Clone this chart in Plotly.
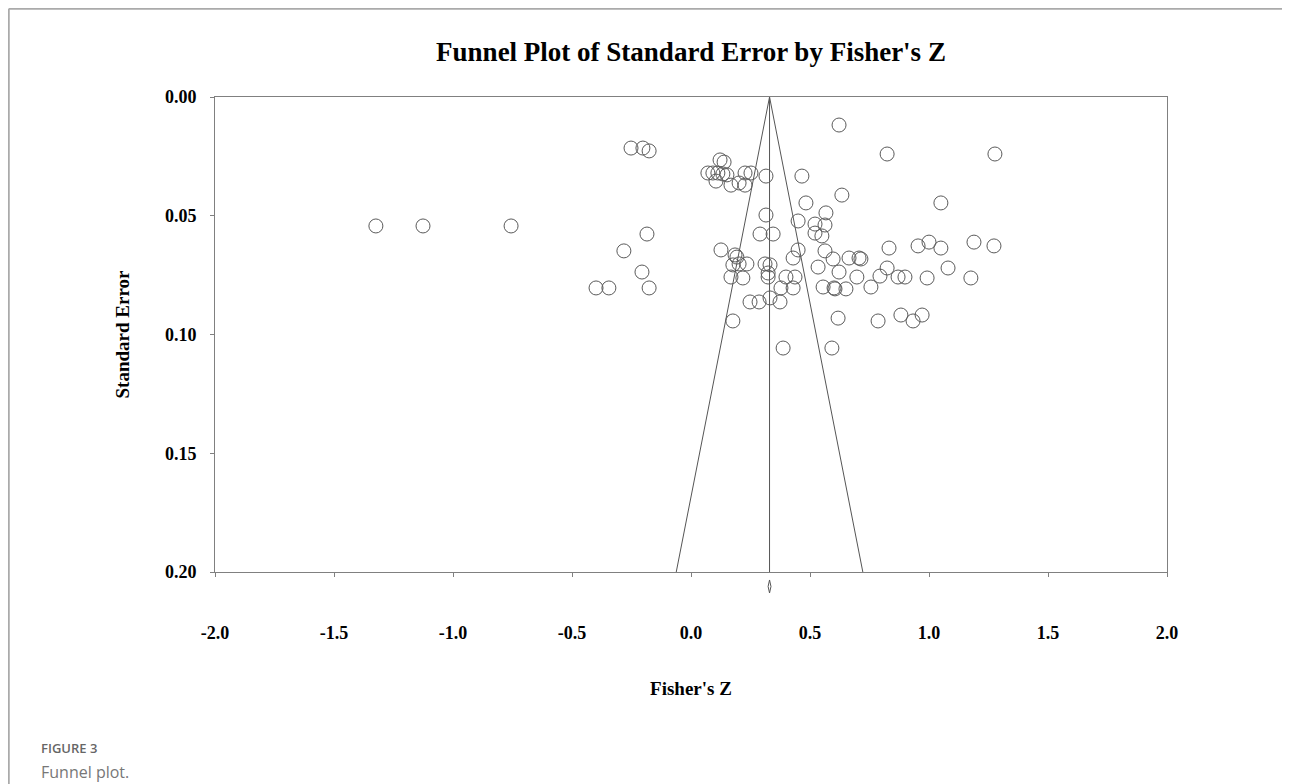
import numpy as np
import plotly.graph_objects as go

# Study effects (Fisher's Z) and standard errors
fisher_z = [
    0.622, -0.252, -0.202, -0.176, 0.824, 1.277, 0.122, 0.139,
    0.071, 0.092, 0.113, 0.134, 0.151, 0.227, 0.252, 0.315, 0.466,
    0.105, 0.168, 0.202, 0.227,
    0.634, 1.050, 0.483, 0.567, 0.315, 0.450, 0.521, 0.563, 0.521, 0.550,
    -1.324, -1.126, -0.756, -0.185, 0.290, 0.345,
    -0.282, 0.126, 0.185, 0.193, 0.202, 0.235, 0.176, 0.168, 0.218,
    0.311, 0.332, 0.324, 0.324, 0.399, 0.437, 0.378, 0.429,
    0.248, 0.286, 0.332, 0.374, 0.176, 0.387, 0.592,
    0.450, 0.429, 0.563, 0.597, 0.534, 0.622, 0.664, 0.706, 0.714,
    0.832, 0.954, 1.000, 1.050, 1.189, 1.273,
    0.824, 0.794, 0.870, 0.899, 0.992, 1.080, 1.176, 0.697,
    0.756, 0.555, 0.601, 0.605, 0.651,
    0.618, 0.786, 0.882, 0.933, 0.971,
    -0.206, -0.399, -0.345, -0.176,
]
std_err = [
    0.0118, 0.0215, 0.0215, 0.0227, 0.0240, 0.0240, 0.0265, 0.0274,
    0.0320, 0.0320, 0.0320, 0.0324, 0.0328, 0.0320, 0.0320, 0.0333, 0.0333,
    0.0354, 0.0371, 0.0362, 0.0371,
    0.0413, 0.0446, 0.0446, 0.0488, 0.0497, 0.0522, 0.0535, 0.0539, 0.0573, 0.0585,
    0.0543, 0.0543, 0.0543, 0.0577, 0.0577, 0.0577,
    0.0648, 0.0644, 0.0665, 0.0674, 0.0703, 0.0703, 0.0707, 0.0758, 0.0762,
    0.0703, 0.0707, 0.0741, 0.0758, 0.0758, 0.0758, 0.0804, 0.0804,
    0.0863, 0.0863, 0.0846, 0.0863, 0.0943, 0.1057, 0.1057,
    0.0644, 0.0678, 0.0648, 0.0682, 0.0716, 0.0737, 0.0678, 0.0678, 0.0682,
    0.0636, 0.0627, 0.0611, 0.0636, 0.0611, 0.0627,
    0.0720, 0.0754, 0.0758, 0.0758, 0.0762, 0.0720, 0.0762, 0.0758,
    0.0800, 0.0800, 0.0804, 0.0808, 0.0808,
    0.0931, 0.0943, 0.0918, 0.0943, 0.0918,
    0.0737, 0.0804, 0.0804, 0.0804,
]

pooled_z = 0.33          # combined effect
pooled_ci = 0.006        # half-width of combined effect CI (diamond)
se_max = 0.20
x_ticks = [-2.0, -1.5, -1.0, -0.5, 0.0, 0.5, 1.0, 1.5, 2.0]
y_ticks = [0.00, 0.05, 0.10, 0.15, 0.20]

serif = "Liberation Serif"
line_col = "#555555"

# figure geometry (page has an 8px body margin)
W, H = 1282, 776
L, R, T, B = 207, 123, 89, 212
PW, PH = W - L - R, H - T - B


def px(xf):
    return (xf - L) / PW


def py(yf):
    return (H - B - yf) / PH


fig = go.Figure()

# funnel (95% pseudo-confidence limits)
se_line = np.array([0.0, se_max])
for xs in (pooled_z - 1.96 * se_line, pooled_z + 1.96 * se_line,
           np.array([pooled_z, pooled_z])):
    fig.add_trace(go.Scatter(
        x=xs, y=se_line, mode="lines",
        line=dict(color=line_col, width=1), hoverinfo="skip", showlegend=False))

# studies
fig.add_trace(go.Scatter(
    x=fisher_z, y=std_err, mode="markers",
    marker=dict(symbol="circle-open", size=14, color="#5a5a5a",
                line=dict(width=1, color="#5a5a5a")),
    showlegend=False))

shapes = [
    # diamond for combined effect below the axis
    dict(type="path", xref="x", yref="paper",
         path=(f"M {pooled_z - pooled_ci},-0.0305 L {pooled_z},-0.0168 "
               f"L {pooled_z + pooled_ci},-0.0305 L {pooled_z},-0.0442 Z"),
         line=dict(color=line_col, width=1)),
    # figure frame (top and left)
    dict(type="line", xref="paper", yref="paper", x0=px(0.75), x1=px(W + 5),
         y0=py(0.75), y1=py(0.75), line=dict(color="#aaaaaa", width=2)),
    dict(type="line", xref="paper", yref="paper", x0=px(0.75), x1=px(0.75),
         y0=py(0.75), y1=py(H + 5), line=dict(color="#aaaaaa", width=2)),
]

fig.update_layout(
    width=W, height=H,
    margin=dict(l=L, r=R, t=T, b=B),
    paper_bgcolor="white", plot_bgcolor="white",
    shapes=shapes,
    title=dict(text="Funnel Plot of Standard Error by Fisher's Z",
               x=0.5, xref="paper", y=1 - 44 / H, yref="container",
               yanchor="middle", xanchor="center",
               font=dict(family=serif, size=27, color="black", weight="bold")),
    xaxis=dict(range=[-2.0, 2.0], tickvals=x_ticks,
               ticktext=[f"{v:.1f}" for v in x_ticks],
               showgrid=False, zeroline=False,
               showline=True, linecolor="#808080", linewidth=1, mirror=True,
               ticks="outside", ticklen=4, tickcolor="#808080",
               ticklabelstandoff=40,
               tickfont=dict(family=serif, size=18, color="black", weight="bold"),
               title=dict(text="Fisher's Z", standoff=40,
                          font=dict(family=serif, size=19, color="black", weight="bold"))),
    yaxis=dict(range=[se_max, 0.0], tickvals=y_ticks,
               ticktext=[f"{v:.2f}" for v in y_ticks],
               showgrid=False, zeroline=False,
               showline=True, linecolor="#808080", linewidth=1, mirror=True,
               ticks="outside", ticklen=4, tickcolor="#808080",
               ticklabelstandoff=10,
               tickfont=dict(family=serif, size=18, color="black", weight="bold"),
               title=dict(text="Standard Error", standoff=30,
                          font=dict(family=serif, size=19, color="black", weight="bold"))),
)

fig.add_annotation(text="FIGURE 3", xref="paper", yref="paper",
                   x=px(32), y=py(740), borderpad=0,
                   xanchor="left", yanchor="middle", showarrow=False,
                   font=dict(family="Open Sans", size=13, color="#666666", weight=600))
fig.add_annotation(text="Funnel plot.", xref="paper", yref="paper",
                   x=px(32), y=py(764), borderpad=0,
                   xanchor="left", yanchor="middle", showarrow=False,
                   font=dict(family="Open Sans", size=16, color="#777777"))

fig.write_html("out.html")
